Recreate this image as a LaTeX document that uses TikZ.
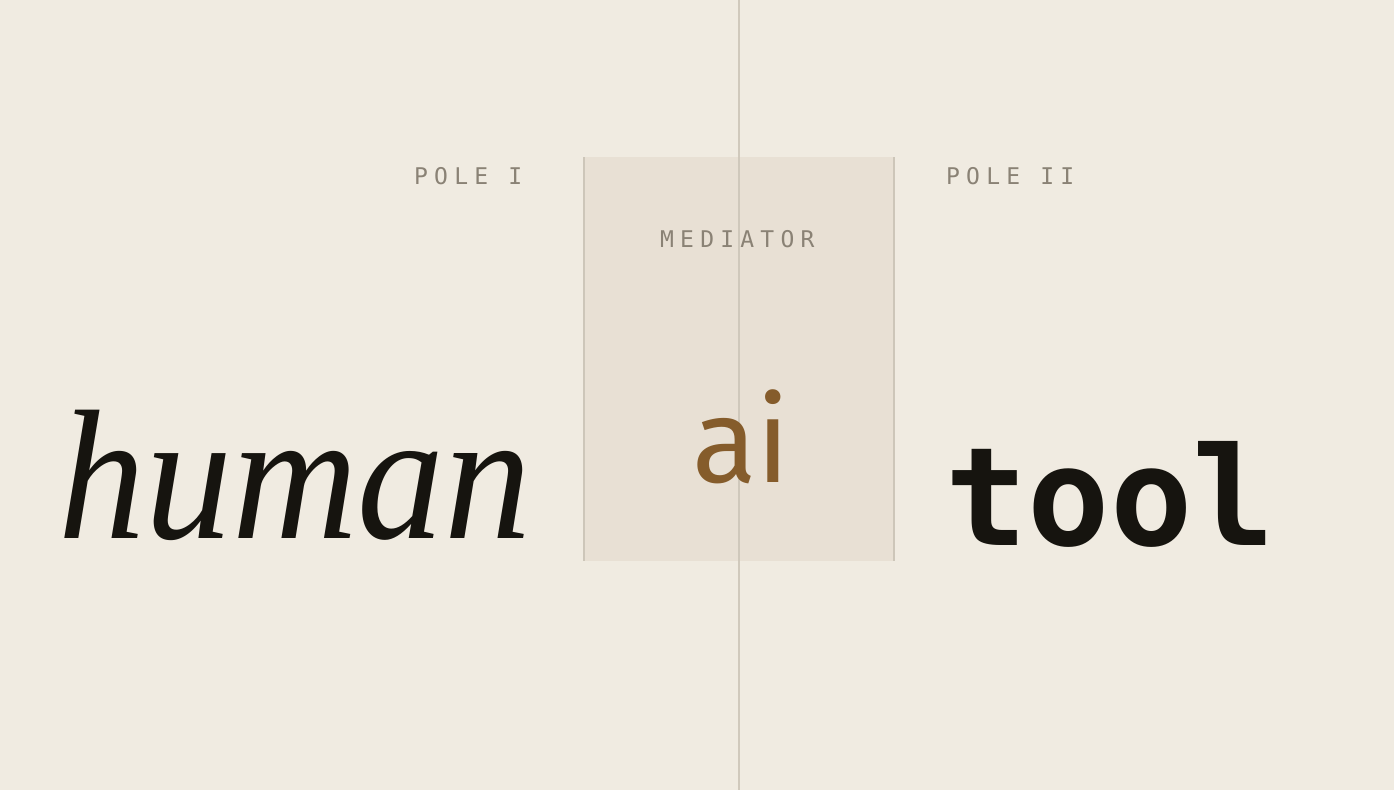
\documentclass[tikz,border=0pt]{standalone}
\usepackage{fontspec}
\newfontfamily\labelfont[LetterSpace=27]{DejaVu Sans Mono}
\newfontfamily\humanfont[ItalicFont={Liberation Serif Italic}]{Liberation Serif}
\newfontfamily\aifont{Fira Sans}
\newfontfamily\toolfont[BoldFont={DejaVu Sans Mono Bold}]{DejaVu Sans Mono}
\definecolor{bg}{HTML}{F0EBE1}
\definecolor{boxfill}{HTML}{E8E0D4}
\definecolor{rule}{HTML}{CDC6B9}
\definecolor{labelgray}{HTML}{8A8275}
\definecolor{ink}{HTML}{16140F}
\definecolor{aibrown}{HTML}{855C2B}
\tikzset{
  polelabel/.style={inner sep=0pt, anchor=base west, text=labelgray, font=\labelfont\fontsize{23}{23}\selectfont},
  bigword/.style={inner sep=0pt, anchor=base west, text=ink}
}
\begin{document}
\begin{tikzpicture}[x=1pt,y=-1pt]
\fill[bg] (0,0) rectangle (1394,790);
\useasboundingbox (0,0) rectangle (1394,790);
\fill[boxfill] (584,157) rectangle (894,561);
\coordinate (bl) at (584,157); \coordinate (bl2) at (584,561);
\coordinate (br) at (894,157); \coordinate (br2) at (894,561);
\draw[rule, line width=2pt] (bl) -- (bl2);
\draw[rule, line width=2pt] (br) -- (br2);
\coordinate (ct) at (739,0); \coordinate (cb) at (739,790);
\draw[rule, line width=1.5pt, opacity=0.9] (ct) -- (cb);
\node[polelabel] (p1) at (414,184) {POLE I};
\node[polelabel] (p2) at (946,184) {POLE II};
\node[polelabel] (med) at (660,247) {MEDIATOR};
\node[bigword, font=\humanfont\itshape\fontsize{185}{185}\selectfont] (human) at (58,538) {\scalebox{0.94}[1]{human}};
\node[bigword, text=aibrown, font=\aifont\fontsize{119}{119}\selectfont] (ai) at (692,482) {ai};
\node[bigword, font=\toolfont\bfseries\fontsize{137}{137}\selectfont] (tool) at (945,545) {tool};
\end{tikzpicture}
\end{document}
